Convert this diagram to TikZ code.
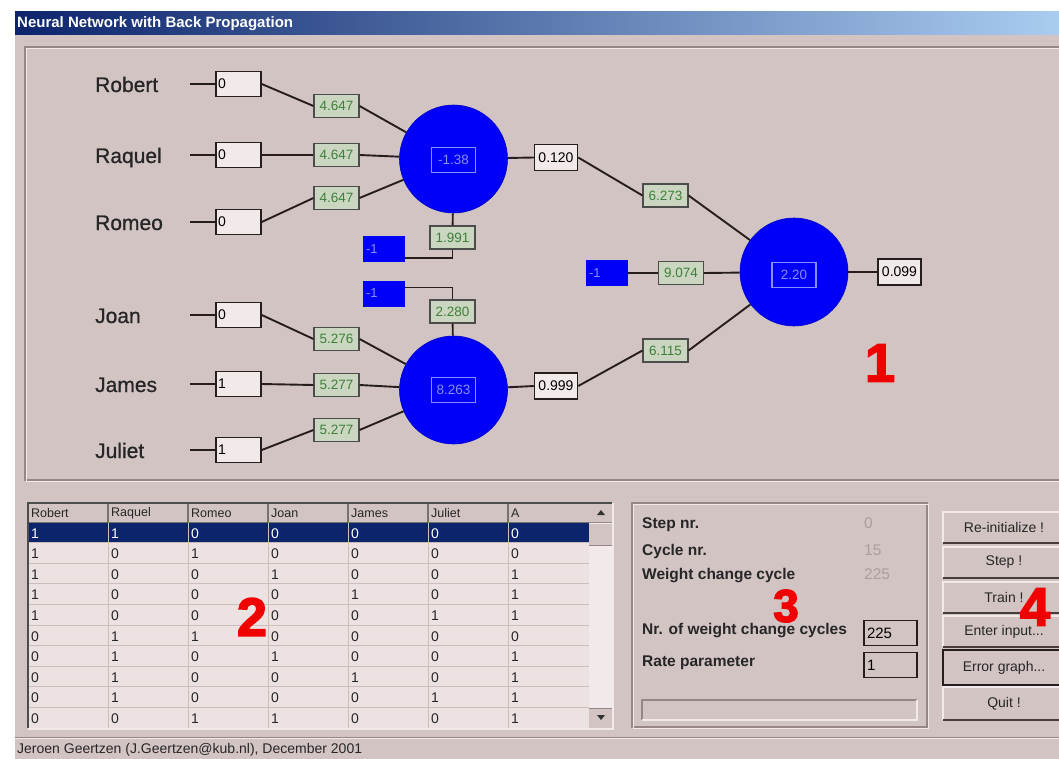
\documentclass[tikz,border=0pt]{standalone}
\usepackage{fontspec}
\setmainfont{Liberation Sans}
\newfontface\heavyfont[FakeBold=3]{Liberation Sans Bold}
\newfontface\namefont[FakeBold=0.8]{Liberation Sans}
\newcommand\fs[1]{\fontsize{#1}{#1}\selectfont}
\newcommand\threedots{...}

\definecolor{winbg}{RGB}{211,196,196}
\definecolor{boxfill}{RGB}{242,233,233}
\definecolor{wfill}{RGB}{203,214,193}
\definecolor{wtext}{RGB}{62,128,58}
\definecolor{nodeblue}{RGB}{0,0,248}
\definecolor{navy}{RGB}{12,36,108}
\definecolor{titlelight}{RGB}{170,204,240}
\definecolor{edge}{RGB}{38,30,30}
\definecolor{etchdark}{RGB}{150,134,134}
\definecolor{etchlight}{RGB}{242,234,234}
\definecolor{gridline}{RGB}{205,190,190}
\definecolor{cellbg}{RGB}{237,226,226}
\definecolor{markred}{RGB}{240,0,0}
\definecolor{greyval}{RGB}{172,158,158}
\definecolor{innerblue}{RGB}{140,140,255}
\definecolor{btnshadow}{RGB}{70,60,60}

\begin{document}
\begin{tikzpicture}[x=1pt,y=-1pt,
  namelbl/.style={anchor=base west,inner sep=0pt,font=\namefont\fs{21},text=black!85},
  inbox/.style={draw=edge,fill=boxfill,line width=1.5pt,minimum height=25pt,
    text width=41pt,inner xsep=2pt,inner ysep=0pt,align=left,font=\fs{14}},
  wbox/.style={draw=black!70,fill=wfill,text=wtext,line width=1.1pt,minimum width=45pt,
    minimum height=23pt,inner sep=0pt,font=\fs{13.5}},
  outbox/.style={draw=edge,fill=boxfill,line width=1.5pt,minimum width=43pt,
    minimum height=26pt,inner sep=0pt,font=\fs{14}},
  biasbox/.style={fill=nodeblue,draw=none,minimum width=42pt,minimum height=26pt,
    text width=36pt,inner xsep=3pt,inner ysep=0pt,align=left,text=innerblue,font=\fs{13}},
  neuron/.style={circle,fill=nodeblue,draw=nodeblue!80!black,line width=0.6pt,minimum size=108pt,inner sep=0pt},
  innerval/.style={draw=innerblue,fill=nodeblue,text=innerblue,line width=1.3pt,
    minimum width=44pt,minimum height=25pt,inner sep=0pt,font=\fs{13.5}},
  wire/.style={draw=edge,line width=1.9pt},
  bignum/.style={text=markred,font=\heavyfont\fs{54},inner sep=0pt},
  hdr/.style={anchor=west,inner sep=0pt,font=\fs{12.5},text=black!85},
  cellv/.style={anchor=west,inner sep=0pt,font=\fs{14}},
  lbl/.style={anchor=base west,inner sep=0pt,font=\bfseries\fs{15.5},text=black!85},
  val/.style={anchor=base west,inner sep=0pt,font=\fs{15.5},text=greyval},
  editbox/.style={draw=edge,fill=winbg,line width=1.4pt,minimum height=25pt,
    text width=47pt,inner xsep=3pt,inner ysep=0pt,align=left,font=\fs{15}},
  btn/.style={fill=winbg,minimum width=122pt,inner sep=0pt,font=\fs{14},text=black!85}]

\useasboundingbox (0,0) rectangle (1059,759);

% window body and caption bar
\fill[white] (0,0) rectangle (1059,759);
\fill[winbg] (15,12) rectangle (1059,759);
\shade[left color=navy,right color=titlelight] (15,12) rectangle (1059,35);
\node[anchor=west,inner sep=0pt,text=white,font=\bfseries\fs{15}] (title) at (17,23.5) {Neural Network with Back Propagation};

% etched frame of the network panel
\draw[etchdark,line width=1.2pt] (25,47) rectangle (1064,480);
\draw[etchlight,line width=1.2pt] (26.5,48.5) rectangle (1066,481.5);

% input layer, its weights and the first hidden neurons
\node[neuron] (h1) at (453.5,159) {};
\node[innerval] (h1v) at (453.5,160) {-1.38};
\node[neuron] (h2) at (453.5,390) {};
\node[innerval] (h2v) at (453.5,390) {8.263};

\foreach \nm/\yy/\val/\wy/\wv/\hid in {Robert/84/0/106/4.647/h1, Raquel/155/0/155/4.647/h1,
    Romeo/222/0/198/4.647/h1, Joan/315/0/339/5.276/h2, James/384/1/385/5.277/h2,
    Juliet/450/1/430/5.277/h2}{
  \node[namelbl] (n\nm) at (95,\yy+8) {\nm};
  \coordinate (s\nm) at (190,\yy);
  \node[inbox] (i\nm) at (238.5,\yy) {\val};
  \node[wbox] (w\nm) at (336.5,\wy) {\wv};
  \draw[wire] (s\nm) -- (i\nm.west);
  \draw[wire] (i\nm.east) -- (w\nm.west);
  \draw[wire] (w\nm.east) -- (\hid);
}

% bias units of the hidden layer
\node[biasbox] (b1) at (384,249) {-1};
\node[wbox] (wb1) at (452.5,237.5) {1.991};
\draw[wire] ([yshift=-9pt]b1.east) -| (wb1.south);
\draw[wire] (wb1) -- (h1);
\node[biasbox] (b2) at (384,293.5) {-1};
\node[wbox] (wb2) at (452.5,311.5) {2.280};
\draw[wire] ([yshift=6pt]b2.east) -| (wb2.north);
\draw[wire] (wb2) -- (h2);

% hidden outputs and the output neuron
\node[outbox] (o1) at (556,157.5) {0.120};
\node[outbox] (o2) at (556,386) {0.999};
\draw[wire] (h1) -- (o1.west);
\draw[wire] (h2) -- (o2.west);

\node[neuron] (out) at (794,272) {};
\node[innerval] (outv) at (794,275) {2.20};
\node[wbox] (v1) at (665.5,195.5) {6.273};
\node[wbox] (v2) at (665.5,350.5) {6.115};
\node[biasbox] (b3) at (607,273) {-1};
\node[wbox] (v3) at (681,273) {9.074};
\draw[wire] (o1.east) -- (v1.west);
\draw[wire] (v1.east) -- (out);
\draw[wire] (o2.east) -- (v2.west);
\draw[wire] (v2.east) -- (out);
\draw[wire] (b3.east) -- (v3.west);
\draw[wire] (v3.east) -- (out);
\node[outbox] (res) at (899.5,272) {0.099};
\draw[wire] (out) -- (res.west);

\node[bignum] (m1) at (880,363) {1};

% pattern list
\fill[cellbg] (28,503) rectangle (589,728);
\fill[winbg] (28,503) rectangle (589,522);
\fill[navy] (28,522.5) rectangle (589,542.6);
\foreach \r in {2,...,10}{
  \draw[gridline,line width=1pt] (28,{522+20.6*(\r-1)}) -- (589,{522+20.6*(\r-1)});
}
\foreach \c in {1,...,6}{
  \draw[gridline,line width=1pt] ({28+80*\c},522) -- ({28+80*\c},728);
  \draw[black!55,line width=1.2pt] ({28+80*\c},503) -- ({28+80*\c},522);
}
\draw[black!55,line width=1pt] (28,522) -- (589,522);
\foreach \hd [count=\c] in {Robert,Raquel,Romeo,Joan,James,Juliet,A}{
  \node[hdr] (hd\c) at ({31+80*(\c-1)},513) {\hd};
}
\foreach \row [count=\r] in {{1,1,0,0,0,0,0},{1,0,1,0,0,0,0},{1,0,0,1,0,0,1},{1,0,0,0,1,0,1},
    {1,0,0,0,0,1,1},{0,1,1,0,0,0,0},{0,1,0,1,0,0,1},{0,1,0,0,1,0,1},{0,1,0,0,0,1,1},{0,0,1,1,0,0,1}}{
  \ifnum\r=1 \def\tc{white}\else\def\tc{black!85}\fi
  \foreach \v [count=\c] in \row {
    \node[cellv,text=\tc] (c-\r-\c) at ({31+80*(\c-1)},{522+20.6*(\r-0.5)+1}) {\v};
  }
}
% scroll bar
\fill[etchlight] (589,503) rectangle (612,728);
\fill[winbg] (589,503) rectangle (612,522);
\fill[winbg] (589,524) rectangle (612,545);
\fill[winbg] (589,708) rectangle (612,728);
\draw[etchdark,line width=1pt] (589,522) -- (612,522) (589,545) -- (612,545) (589,708) -- (612,708);
\fill[black!80] (597,515) -- (605,515) -- (601,510) -- cycle;
\fill[black!80] (597,715) -- (605,715) -- (601,720) -- cycle;
\draw[black!70,line width=1.4pt] (28,728) -- (28,503) -- (612,503);
\draw[etchlight,line width=1.2pt] (28,729) -- (613,729) -- (613,503);

\node[bignum] (m2) at (252,617) {2};

% counters and parameters
\draw[etchdark,line width=1.2pt] (632,503) rectangle (927,727);
\draw[etchlight,line width=1.2pt] (633.5,504.5) rectangle (928.5,728.5);
\node[lbl] (l1) at (642,528) {Step nr.};
\node[lbl] (l2) at (642,555) {Cycle nr.};
\node[lbl] (l3) at (642,579) {Weight change cycle};
\node[val] (x1) at (864,528) {0};
\node[val] (x2) at (864,555) {15};
\node[val] (x3) at (864,579) {225};
\node[lbl] (l4) at (642,634) {Nr. of weight change cycles};
\node[lbl] (l5) at (642,666) {Rate parameter};
\node[editbox] (e1) at (890.5,633) {225};
\node[editbox] (e2) at (890.5,665) {1};
\draw[etchdark,line width=1.3pt] (642,720) -- (642,700) -- (917,700);
\draw[etchlight,line width=1.3pt] (642,720) -- (917,720) -- (917,700);
\node[bignum,font=\heavyfont\fs{46}] (m3) at (786,606) {3};

% command buttons
\foreach \bt/\ya/\yb [count=\i] in {Re-initialize !/512/543, Step !/547/578, Train !/582/613,
    Enter input\threedots/616/647, Error graph\threedots/650/685, Quit !/687/720}{
  \node[btn,minimum height={\yb-\ya}] (bt\i) at (1004,{(\ya+\yb)/2}) {\bt};
  \draw[etchlight,line width=1.4pt] (bt\i.south west) -- (bt\i.north west) -- (bt\i.north east);
  \draw[btnshadow,line width=2.4pt] (bt\i.south west) -- (bt\i.south east);
}
\draw[edge,line width=1.6pt] (bt5.south east) -- (bt5.south west) -- (bt5.north west) -- (bt5.north east);
\node[bignum] (m4) at (1035,607) {4};

% status bar
\draw[etchdark,line width=1pt] (15,737) -- (1059,737);
\draw[etchlight,line width=1pt] (15,738.5) -- (1059,738.5);
\node[anchor=base west,inner sep=0pt,font=\fs{14},text=black!85] (status) at (17,753) {Jeroen Geertzen (J.Geertzen@kub.nl), December 2001};
\end{tikzpicture}
\end{document}
